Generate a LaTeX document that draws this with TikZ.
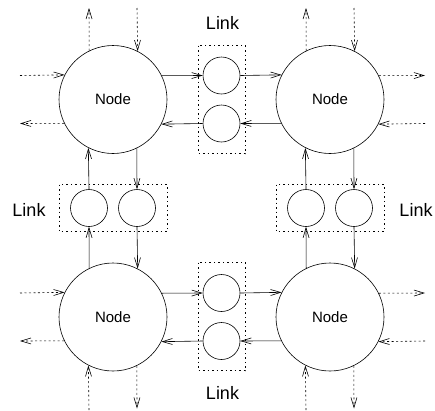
\documentclass[tikz,border=0pt]{standalone}
\usepackage{fontspec}
\setmainfont{Liberation Sans}
\usetikzlibrary{arrows.meta}
\begin{document}
\begin{tikzpicture}[x=1pt,y=-1pt,
  line width=0.6pt,
  >={Straight Barb[length=10pt,width=6pt]},
  bignode/.style={circle,draw,minimum size=108pt,inner sep=0pt,font=\fontsize{15}{17}\selectfont},
  qnode/.style={circle,draw,minimum size=37pt,inner sep=0pt},
  linkbox/.style={draw,dash pattern=on 1.5pt off 3pt,line width=0.6pt},
  ext/.style={->,dash pattern=on 2pt off 2.5pt},
  lnk/.style={->},
  lbl/.style={font=\fontsize{18}{20}\selectfont}]
\useasboundingbox (0,0) rectangle (435,410);
% main nodes
\node[bignode] (TL) at (113,99.5) {Node};
\node[bignode] (TR) at (330,99.5) {Node};
\node[bignode] (BL) at (113,317) {Node};
\node[bignode] (BR) at (330,317) {Node};
% link boxes
\draw[linkbox] (198.5,45.5) rectangle (245,153.5);
\draw[linkbox] (198.5,262.5) rectangle (245,370.5);
\draw[linkbox] (59,184.5) rectangle (167,231.5);
\draw[linkbox] (276,184.5) rectangle (384,231.5);
% queue circles
\node[qnode] (T1) at (221.5,75.5) {};
\node[qnode] (T2) at (221.5,123.5) {};
\node[qnode] (B1) at (221.5,293) {};
\node[qnode] (B2) at (221.5,341) {};
\node[qnode] (L1) at (89,208) {};
\node[qnode] (L2) at (137,208) {};
\node[qnode] (R1) at (306,208) {};
\node[qnode] (R2) at (354,208) {};
% labels
\node[lbl] (lt) at (222.5,23) {Link};
\node[lbl] (lb) at (222.5,393) {Link};
\node[lbl] (ll) at (29,210) {Link};
\node[lbl] (lr) at (416,210) {Link};
% link connectors
\draw[lnk] (TL.26.4) -- (T1.west);
\draw[lnk] (T1.east) -- (TR.153.6);
\draw[lnk] (TR.206.4) -- (T2.east);
\draw[lnk] (T2.west) -- (TL.333.6);
\draw[lnk] (BL.26.4) -- (B1.west);
\draw[lnk] (B1.east) -- (BR.153.6);
\draw[lnk] (BR.206.4) -- (B2.east);
\draw[lnk] (B2.west) -- (BL.333.6);
\draw[lnk] (BL.116.4) -- (L1.south);
\draw[lnk] (L1.north) -- (TL.243.6);
\draw[lnk] (TL.296.4) -- (L2.north);
\draw[lnk] (L2.south) -- (BL.63.6);
\draw[lnk] (BR.116.4) -- (R1.south);
\draw[lnk] (R1.north) -- (TR.243.6);
\draw[lnk] (TR.296.4) -- (R2.north);
\draw[lnk] (R2.south) -- (BR.63.6);
% external coordinates
\coordinate (tlw1) at (20,75.5);
\coordinate (tlw2) at (20,123.5);
\coordinate (tln1) at (89,8);
\coordinate (tln2) at (137,8);
\coordinate (trn1) at (306,8);
\coordinate (trn2) at (354,8);
\coordinate (tre1) at (425,75.5);
\coordinate (tre2) at (425,123.5);
\coordinate (blw1) at (20,293);
\coordinate (blw2) at (20,341);
\coordinate (bls1) at (89,410);
\coordinate (bls2) at (137,408.5);
\coordinate (bre1) at (425,293);
\coordinate (bre2) at (425,341);
\coordinate (brs1) at (306,410);
\coordinate (brs2) at (354,408.5);
% external dashed arrows
\draw[ext] (tlw1) -- (TL.153.6);
\draw[ext] (TL.206.4) -- (tlw2);
\draw[ext] (TL.116.4) -- (tln1);
\draw[ext] (tln2) -- (TL.63.6);
\draw[ext] (TR.116.4) -- (trn1);
\draw[ext] (trn2) -- (TR.63.6);
\draw[ext] (TR.26.4) -- (tre1);
\draw[ext] (tre2) -- (TR.333.6);
\draw[ext] (blw1) -- (BL.153.6);
\draw[ext] (BL.206.4) -- (blw2);
\draw[ext] (bls1) -- (BL.243.6);
\draw[ext] (BL.296.4) -- (bls2);
\draw[ext] (BR.26.4) -- (bre1);
\draw[ext] (bre2) -- (BR.333.6);
\draw[ext] (brs1) -- (BR.243.6);
\draw[ext] (BR.296.4) -- (brs2);
\end{tikzpicture}
\end{document}
